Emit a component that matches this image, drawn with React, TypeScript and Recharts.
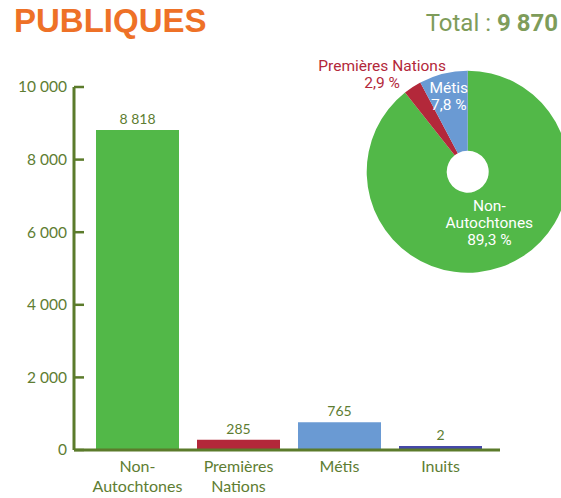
import { BarChart, Bar, XAxis, YAxis, Cell, LabelList, PieChart, Pie } from 'recharts'

const categories = ['Non-Autochtones', 'Premières Nations', 'Métis', 'Inuits']
const counts = [8818, 285, 765, 2]
const yTicks = [0, 2000, 4000, 6000, 8000, 10000]
const total = 9870

const colors = ['#52b848', '#b3283a', '#6a9ad3', '#4549a8']
const axisColor = '#5b7b2b'
const textColor = '#5e7d32'

const rows = categories.map((name, i) => ({ name, count: counts[i] }))

const fmt = (v: number) => String(v).replace(/\B(?=(\d{3})+(?!\d))/g, ' ')
const pct = (v: number) => ((v / total) * 100).toFixed(1).replace('.', ',') + ' %'

// split "Non-Autochtones" after the hyphen, "Premières Nations" at the space
const splitName = (s: string) => {
  const h = s.indexOf('-')
  if (h > 0) return [s.slice(0, h + 1), s.slice(h + 1)]
  return s.split(' ')
}

const YTick = ({ x, y, payload }: any) => (
  <g>
    <line x1={x} x2={x + 10} y1={y} y2={y} stroke={axisColor} strokeWidth={2.5} />
    <text x={x - 7} y={y} dy="0.35em" textAnchor="end" fill={textColor} fontSize={15.5} fontFamily="Lato">
      {fmt(payload.value)}
    </text>
  </g>
)

const XTick = ({ x, y, payload }: any) => (
  <text x={x} y={y} textAnchor="middle" fill={textColor} fontSize={16} fontFamily="Lato">
    {splitName(payload.value).map((l, i) => (
      <tspan key={i} x={x} dy={i === 0 ? '0.71em' : '1.2em'}>
        {l}
      </tspan>
    ))}
  </text>
)

// where each pie label sits: radius and angle shift from the slice middle
const pieLabelPos: Record<string, { r: number; da: number; color: string; lines: number }> = {
  'Non-Autochtones': { r: 55, da: 4, color: '#ffffff', lines: 3 },
  'Premières Nations': { r: 130, da: 8, color: '#b3283a', lines: 2 },
  'Métis': { r: 78, da: 0, color: '#ffffff', lines: 2 },
}

const PieLabel = (props: any) => {
  const { cx, cy, midAngle, name, value } = props
  const pos = pieLabelPos[name]
  if (!pos) return null
  const a = ((midAngle + pos.da) * Math.PI) / 180
  const x = cx + pos.r * Math.cos(a)
  const y = cy - pos.r * Math.sin(a)
  const lines = pos.lines === 3 ? [...splitName(name), pct(value)] : [name, pct(value)]
  const lh = 17
  const y0 = y - ((lines.length - 1) * lh) / 2
  return (
    <text x={x} y={y0} textAnchor="middle" fill={pos.color} fontSize={15.5} fontFamily="Roboto">
      {lines.map((l, i) => (
        <tspan key={i} x={x} dy={i === 0 ? '0.35em' : lh}>
          {l}
        </tspan>
      ))}
    </text>
  )
}

export default function App() {
  return (
    <div style={{ position: 'absolute', left: 0, top: 0, width: 561, height: 498, overflow: 'hidden', background: '#fff' }}>
      <div
        style={{
          position: 'absolute', left: 14, top: 1, fontFamily: 'Liberation Sans', fontWeight: 700,
          fontSize: 33, color: '#ee7127', lineHeight: '40px',
        }}
      >
        PUBLIQUES
      </div>
      <div
        style={{
          position: 'absolute', right: 3, top: 8, fontFamily: 'Roboto', fontSize: 24,
          color: '#7e9c5a', lineHeight: '30px',
        }}
      >
        Total : <b>{fmt(total)}</b>
      </div>
      <div style={{ position: 'absolute', left: 0, top: 0 }}>
        <BarChart width={561} height={498} data={rows} margin={{ top: 87, right: 61, bottom: 0, left: 8 }}>
          <YAxis
            domain={[0, 10000]}
            ticks={yTicks}
            width={66}
            tickSize={0}
            tickMargin={0}
            tickLine={false}
            axisLine={{ stroke: axisColor, strokeWidth: 3 }}
            tick={<YTick />}
            interval={0}
          />
          <XAxis
            dataKey="name"
            height={48}
            tickSize={0}
            tickMargin={11}
            tickLine={false}
            padding={{ left: 13, right: 9 }}
            axisLine={{ stroke: axisColor, strokeWidth: 3 }}
            tick={<XTick />}
            interval={0}
          />
          <Bar dataKey="count" barSize={83} minPointSize={4} isAnimationActive={false}>
            {rows.map((r, i) => (
              <Cell key={r.name} fill={colors[i]} />
            ))}
            <LabelList
              dataKey="count"
              position="top"
              offset={6}
              formatter={(v: any) => fmt(Number(v))}
              fill={textColor}
              fontSize={14}
              fontFamily="Lato"
            />
          </Bar>
        </BarChart>
      </div>
      <div style={{ position: 'absolute', left: 300, top: 40 }}>
        <PieChart width={261} height={250} margin={{ top: 0, right: 0, bottom: 0, left: 0 }}>
          <Pie
            data={rows}
            dataKey="count"
            nameKey="name"
            cx={167.7}
            cy={131.7}
            innerRadius={21}
            outerRadius={101}
            startAngle={90}
            endAngle={-270}
            stroke="none"
            label={PieLabel}
            labelLine={false}
            isAnimationActive={false}
          >
            {rows.map((r, i) => (
              <Cell key={r.name} fill={colors[i]} />
            ))}
          </Pie>
        </PieChart>
      </div>
    </div>
  )
}
